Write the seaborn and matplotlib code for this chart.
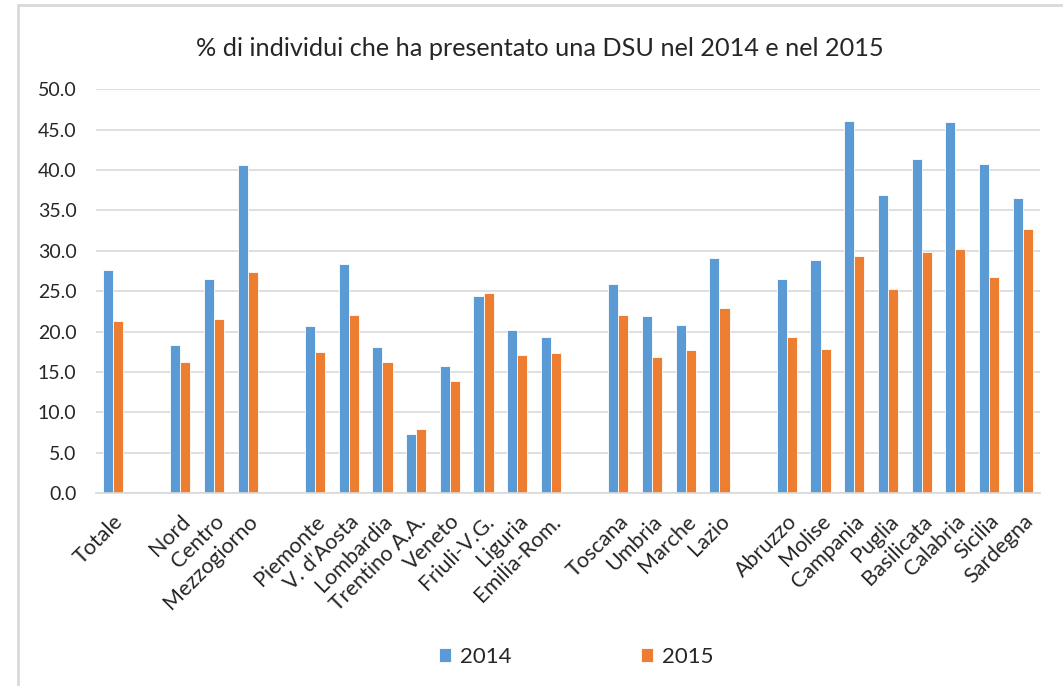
import numpy as np
import matplotlib
matplotlib.use("Agg")
import matplotlib.pyplot as plt
import pandas as pd
import seaborn as sns
from matplotlib.patches import Rectangle

# categorie (le voci vuote separano i gruppi)
aree = ["Totale", " ", "Nord", "Centro", "Mezzogiorno", "  ",
        "Piemonte", "V. d'Aosta", "Lombardia", "Trentino A.A.", "Veneto",
        "Friuli-V.G.", "Liguria", "Emilia-Rom.", "   ",
        "Toscana", "Umbria", "Marche", "Lazio", "    ",
        "Abruzzo", "Molise", "Campania", "Puglia", "Basilicata",
        "Calabria", "Sicilia", "Sardegna"]

dsu_2014 = [27.6, np.nan, 18.3, 26.5, 40.6, np.nan,
            20.7, 28.4, 18.1, 7.3, 15.7, 24.4, 20.2, 19.3, np.nan,
            25.9, 21.9, 20.8, 29.1, np.nan,
            26.5, 28.8, 46.1, 36.9, 41.3, 46.0, 40.7, 36.5]
dsu_2015 = [21.3, np.nan, 16.3, 21.6, 27.4, np.nan,
            17.5, 22.0, 16.3, 8.0, 13.9, 24.8, 17.1, 17.4, np.nan,
            22.0, 16.9, 17.7, 22.9, np.nan,
            19.3, 17.8, 29.4, 25.3, 29.9, 30.2, 26.8, 32.7]

anni = ["2014", "2015"]
colori = ["#5B9BD5", "#ED7D31"]

df = pd.DataFrame({"area": aree, "2014": dsu_2014, "2015": dsu_2015})
df = df.melt(id_vars="area", var_name="anno", value_name="valore")

sns.set_style("white")
plt.rcParams["font.family"] = ["Lato", "DejaVu Sans"]

fig = plt.figure(figsize=(10.63, 6.86), dpi=100)
ax = fig.add_axes([0.0903, 0.281, 0.978 - 0.0903, 0.870 - 0.281])

sns.barplot(data=df, x="area", y="valore", hue="anno", order=aree,
            hue_order=anni, palette=colori, saturation=1, width=0.6,
            errorbar=None, edgecolor="white", linewidth=0.6, ax=ax)

ax.set_ylim(0, 50)
ax.set_yticks(np.arange(0, 50.1, 5))
ax.set_yticklabels([f"{v:.1f}" for v in np.arange(0, 50.1, 5)])
ax.set_xlim(-0.5, len(aree) - 0.5)
ax.grid(axis="y", color="#D9D9D9", linewidth=1.2)
ax.set_axisbelow(True)
for s in ["top", "right", "left"]:
    ax.spines[s].set_visible(False)
ax.spines["bottom"].set_color("#D9D9D9")
ax.spines["bottom"].set_linewidth(1.2)
ax.set_xlabel("")
ax.set_ylabel("")
ax.tick_params(axis="y", length=0, pad=14, labelsize=14, labelcolor="#262626")
ax.tick_params(axis="x", length=0, pad=13, labelsize=15.5, labelcolor="#262626")
plt.setp(ax.get_xticklabels(), rotation=45, ha="right", rotation_mode="anchor")

handles, labels = ax.get_legend_handles_labels()
ax.legend_.remove()
fig.legend(handles, labels, loc="center", bbox_to_anchor=(0.542, 1 - 657 / 686),
           ncol=2, frameon=False, fontsize=16, handlelength=0.55, handleheight=0.55,
           handletextpad=0.4, columnspacing=5.8, labelcolor="#262626")

fig.text(0.508, 1 - 48 / 686, "% di individui che ha presentato una DSU nel 2014 e nel 2015",
         ha="center", va="center", fontsize=18.2, color="#262626")

# cornice del grafico
fig.patches.append(Rectangle((18 / 1063, -0.05), 1.2, 1.05 - 5 / 686, transform=fig.transFigure,
                             fill=False, edgecolor="#D9D9D9", linewidth=2))

fig.savefig("out.png", dpi=100)
